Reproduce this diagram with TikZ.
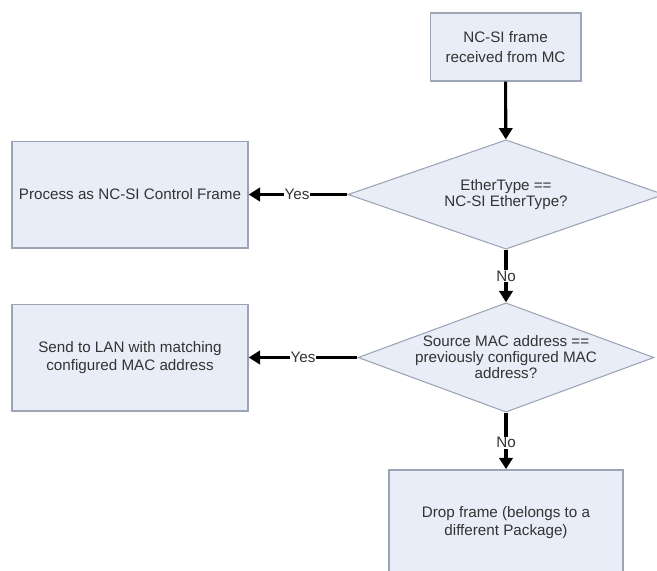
\documentclass[tikz,border=0pt]{standalone}
\usepackage{fontspec}
\setmainfont{Liberation Sans}
\usepackage{tikz}
\usetikzlibrary{positioning,arrows.meta,shapes.geometric}
\usepackage{xcolor}
\definecolor{BoxFill}{HTML}{E8EDF7}
\definecolor{BoxLine}{HTML}{9CA5B5}
\definecolor{TextGray}{HTML}{333333}
\tikzset{
  flowbox/.style={draw=BoxLine,fill=BoxFill,line width=1pt,align=center,
    text=TextGray,font=\fontsize{11.4}{13.5}\selectfont},
  decide/.style={diamond,draw=BoxLine,fill=BoxFill,line width=0.8pt,inner sep=0pt},
  decidetext/.style={align=center,text=TextGray,font=\fontsize{11.4}{12}\selectfont},
  flow/.style={line width=2.3pt,-{Triangle[length=8.5pt,width=10pt]}},
  tag/.style={fill=white,inner sep=0.6pt,text=TextGray,font=\fontsize{11.4}{13}\selectfont}
}
\begin{document}
\begin{tikzpicture}[x=0.75pt,y=-0.75pt]
\useasboundingbox (0,0) rectangle (657,571);
\node[flowbox,minimum width=113pt,minimum height=51pt,
  font=\fontsize{11.4}{15}\selectfont] (recv) at (505.5,47)
  {NC-SI frame\\received from MC};
\node[decide,minimum width=237pt,minimum height=82pt,
  label={[decidetext]center:EtherType ==\\NC-SI EtherType?}] (ethtype) at (506,194.5) {};
\node[decide,minimum width=222pt,minimum height=82pt,
  label={[decidetext]center:Source MAC address ==\\previously configured MAC\\address?}] (srcmac) at (506,357.5) {};
\node[flowbox,minimum width=177pt,minimum height=80pt] (ctrl) at (130,194.5)
  {Process as NC-SI Control Frame};
\node[flowbox,minimum width=177pt,minimum height=80pt] (lan) at (130,357.5)
  {Send to LAN with matching\\configured MAC address};
\node[flowbox,minimum width=175.5pt,minimum height=79pt] (drop) at (506,522.5)
  {Drop frame (belongs to a\\different Package)};
\draw[flow] (recv) -- (ethtype);
\draw[flow] (ethtype) -- node[tag,pos=0.5] {No} (srcmac);
\draw[flow] (srcmac) -- node[tag,pos=0.53] {No} (drop);
\draw[flow] (ethtype.west) -- node[tag,pos=0.51] {Yes} (ctrl.east);
\draw[flow] (srcmac.west) -- node[tag,pos=0.5] {Yes} (lan.east);
\end{tikzpicture}
\end{document}
